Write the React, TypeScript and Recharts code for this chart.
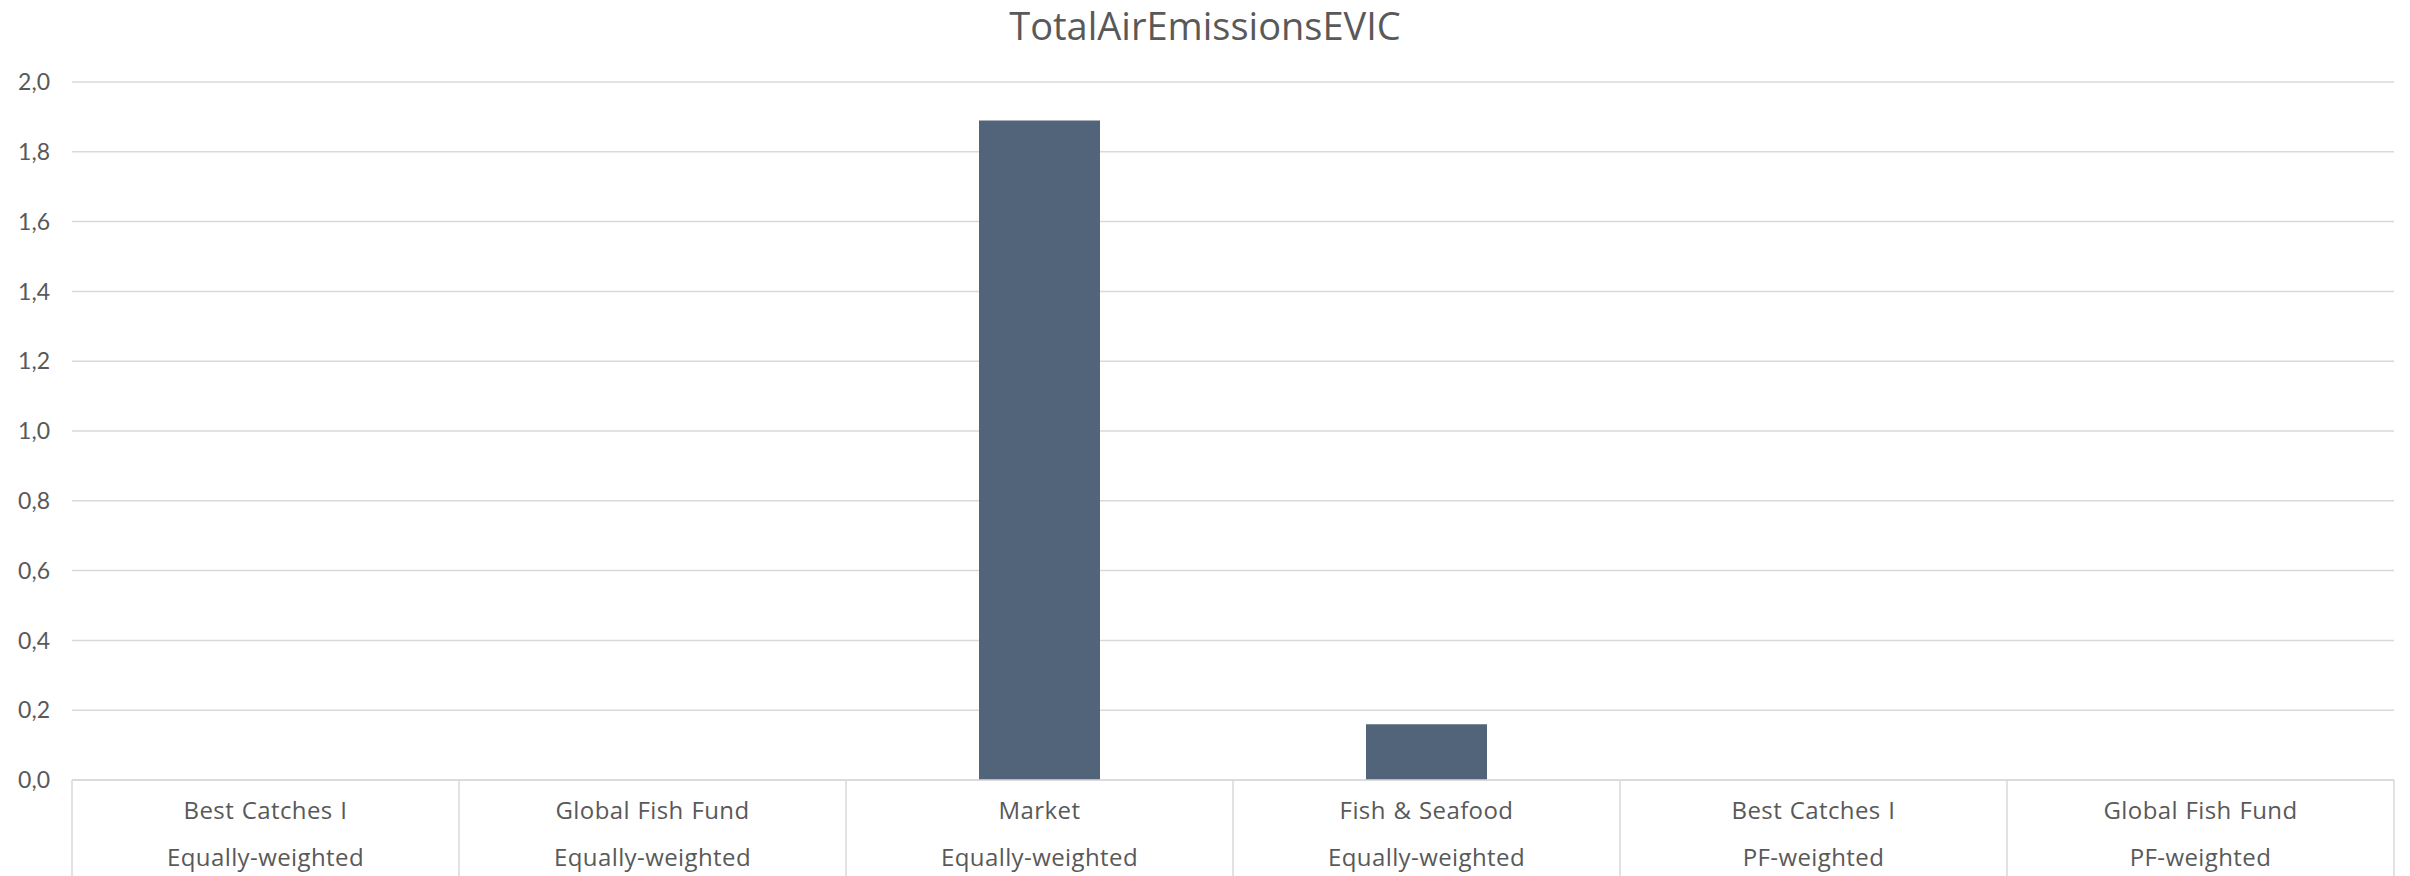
import React from 'react';
import { BarChart, Bar, XAxis, YAxis, CartesianGrid } from 'recharts';

const TITLE = 'TotalAirEmissionsEVIC';
const fundNames = ['Best Catches I', 'Global Fish Fund', 'Market', 'Fish & Seafood', 'Best Catches I', 'Global Fish Fund'];
const weightings = ['Equally-weighted', 'Equally-weighted', 'Equally-weighted', 'Equally-weighted', 'PF-weighted', 'PF-weighted'];
const emissions = [0, 0, 1.89, 0.16, 0, 0];
const yTicks = [0, 0.2, 0.4, 0.6, 0.8, 1.0, 1.2, 1.4, 1.6, 1.8, 2.0];

const data = fundNames.map((n, i) => ({ key: `${i}`, name: n, weighting: weightings[i], value: emissions[i] }));

const W = 2410;
const H = 876;
const M = { top: 82, right: 16, bottom: 0, left: 0 };
const Y_AXIS_W = 72;
const X_AXIS_H = 96;
const PLOT_W = W - M.left - M.right - Y_AXIS_W;
const BAND = PLOT_W / fundNames.length;
const GRID = '#d9d9d9';
const TEXT = '#595959';
const FONT = 'Lato, "Open Sans", sans-serif';
const LABEL_FONT = '"Open Sans", Lato, sans-serif';

const XTick = (props: any) => {
  const { x, y, payload, index } = props;
  const i = Number(payload.value);
  const axisY = y;
  const left = x - BAND / 2;
  const right = x + BAND / 2;
  const textProps = {
    x,
    textAnchor: 'middle' as const,
    dominantBaseline: 'central' as const,
    fill: TEXT,
    fontSize: 24,
    fontFamily: LABEL_FONT,
    letterSpacing: 0.4,
    wordSpacing: 1,
  };
  return (
    <g>
      <line x1={left} y1={axisY} x2={left} y2={H} stroke={GRID} strokeWidth={1.5} />
      {index === fundNames.length - 1 && (
        <line x1={right} y1={axisY} x2={right} y2={H} stroke={GRID} strokeWidth={1.5} />
      )}
      <text {...textProps} y={axisY + 29}>
        {fundNames[i]}
      </text>
      <text {...textProps} y={axisY + 76}>
        {weightings[i]}
      </text>
    </g>
  );
};

export default function App() {
  return (
    <div style={{ position: 'absolute', left: 0, top: 0, width: W, height: H, background: '#fff' }}>
      <div
        style={{
          position: 'absolute',
          left: 0,
          top: 0,
          width: W,
          textAlign: 'center',
          fontFamily: LABEL_FONT,
          fontSize: 38,
          color: TEXT,
          lineHeight: '50px',
        }}
      >
        {TITLE}
      </div>
      <BarChart width={W} height={H} data={data} margin={M}>
        <CartesianGrid vertical={false} stroke={GRID} strokeWidth={1.5} />
        <XAxis
          dataKey="key"
          height={X_AXIS_H}
          interval={0}
          axisLine={{ stroke: GRID, strokeWidth: 1.5 }}
          tickLine={false}
          tickSize={0}
          tickMargin={0}
          tick={<XTick />}
        />
        <YAxis
          width={Y_AXIS_W}
          domain={[0, 2]}
          ticks={yTicks}
          interval={0}
          axisLine={false}
          tickLine={false}
          tickSize={0}
          tickMargin={22}
          tick={{ fill: TEXT, fontSize: 23, fontFamily: FONT }}
          tickFormatter={(v: number) => v.toFixed(1).replace('.', ',')}
        />
        <Bar dataKey="value" fill="#526479" barSize={121} isAnimationActive={false} />
      </BarChart>
    </div>
  );
}
